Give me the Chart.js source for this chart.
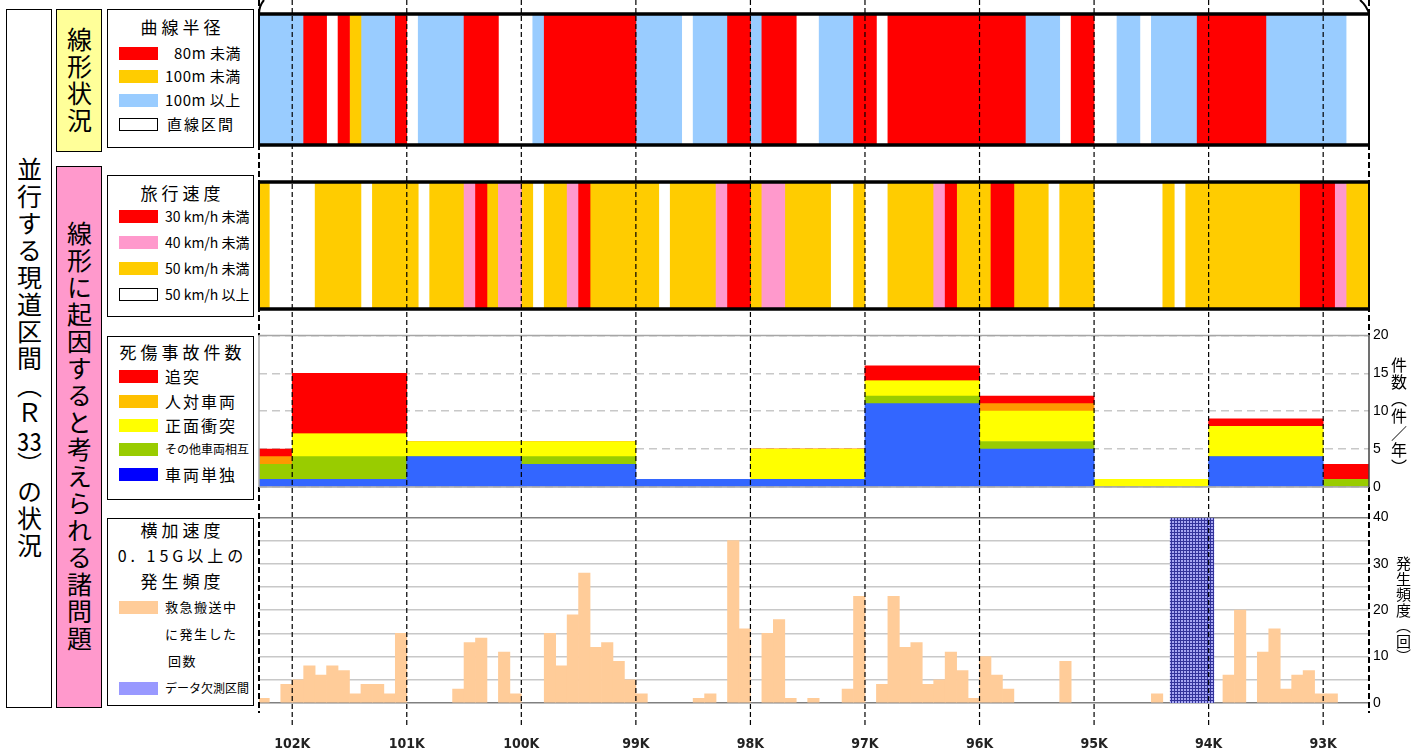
<!DOCTYPE html>
<html lang="ja">
<head>
<meta charset="utf-8">
<title>線形に起因すると考えられる諸問題</title>
<script src="https://cdn.jsdelivr.net/npm/chart.js@4.4.1/dist/chart.umd.min.js"></script>
<style>
  body { margin: 0; background: #fff; font-family: 'Noto Sans CJK JP', sans-serif; color: #000; }
  #page { position: relative; width: 1424px; height: 751px; overflow: hidden; }
  canvas { position: absolute; left: 250px; }
  .vbox { position: absolute; border: 1.5px solid #000; box-sizing: border-box; display: flex; align-items: center; justify-content: center; }
  .vbox > span { writing-mode: vertical-rl; font-size: 25px; letter-spacing: 2px; line-height: 1; }
  .tcy { text-combine-upright: all; }
  .lg { position: absolute; left: 107px; width: 147px; border: 1.5px solid #000; box-sizing: border-box; }
  .t { position: absolute; left: 109px; width: 147px; text-align: center; font-size: 17px; letter-spacing: 4px; line-height: 20px; white-space: nowrap; }
  .sw { position: absolute; left: 119px; width: 39px; height: 13px; }
  .ln { border: 1px solid #000; box-sizing: border-box; }
  .tx { position: absolute; left: 165px; line-height: 18px; white-space: nowrap; }
  .f15 { font-size: 15px; letter-spacing: 0.5px; }
  .f14 { font-size: 14px; }
  .f16 { font-size: 16px; letter-spacing: 2px; }
  .f13 { font-size: 13px; letter-spacing: 1.5px; }
  .f12 { font-size: 12px; }
  .vt { position: absolute; writing-mode: vertical-rl; line-height: 1; }
</style>
</head>
<body>
<div id="page">
  <div class="vbox" style="left:6px;top:9px;width:46px;height:699px"><span>並行する現道区間（Ｒ<span class="tcy">33</span>）の状況</span></div>
  <div class="vbox" style="left:56px;top:9px;width:46px;height:143px;background:#FFFF99"><span>線形状況</span></div>
  <div class="vbox" style="left:56px;top:166px;width:46px;height:542px;background:#FF99CC"><span>線形に起因すると考えられる諸問題</span></div>

  <div class="lg" style="top:9px;height:139px"></div>
  <div class="t" style="top:17px">曲線半径</div>
  <div class="sw" style="top:47px;background:#FF0000"></div><div class="tx f15" style="top:44px;left:174px">80m 未満</div>
  <div class="sw" style="top:70px;background:#FFCC00"></div><div class="tx f15" style="top:67px">100m 未満</div>
  <div class="sw" style="top:94px;background:#99CCFF"></div><div class="tx f15" style="top:91px">100m 以上</div>
  <div class="sw ln" style="top:118px"></div><div class="tx f15" style="top:115px;left:167px;letter-spacing:2px">直線区間</div>

  <div class="lg" style="top:175px;height:142px"></div>
  <div class="t" style="top:183px">旅行速度</div>
  <div class="sw" style="top:210px;background:#FF0000"></div><div class="tx f14" style="top:207px">30 km/h 未満</div>
  <div class="sw" style="top:236px;background:#FF99CC"></div><div class="tx f14" style="top:233px">40 km/h 未満</div>
  <div class="sw" style="top:262px;background:#FFCC00"></div><div class="tx f14" style="top:259px">50 km/h 未満</div>
  <div class="sw ln" style="top:288px"></div><div class="tx f14" style="top:285px">50 km/h 以上</div>

  <div class="lg" style="top:336px;height:164px"></div>
  <div class="t" style="top:342px">死傷事故件数</div>
  <div class="sw" style="top:370px;background:#FF0000"></div><div class="tx f16" style="top:367px">追突</div>
  <div class="sw" style="top:395px;background:#FFC000"></div><div class="tx f16" style="top:392px">人対車両</div>
  <div class="sw" style="top:419px;background:#FFFF00"></div><div class="tx f16" style="top:416px">正面衝突</div>
  <div class="sw" style="top:443px;background:#99CC00"></div><div class="tx f12" style="top:440px">その他車両相互</div>
  <div class="sw" style="top:468px;background:#0000FF"></div><div class="tx f16" style="top:465px">車両単独</div>

  <div class="lg" style="top:518px;height:188px"></div>
  <div class="t" style="top:520px">横加速度</div>
  <div class="t" style="top:545px;font-size:16px;letter-spacing:4px">0. 15G以上の</div>
  <div class="t" style="top:571px">発生頻度</div>
  <div class="sw" style="top:601px;background:#FFCC99"></div>
  <div class="tx f13" style="top:598px">救急搬送中</div>
  <div class="tx f13" style="top:625px">に発生した</div>
  <div class="tx f13" style="top:652px;left:168px">回数</div>
  <div class="sw" style="top:682px;background:#9999FF"></div><div class="tx f12" style="top:679px">データ欠測区間</div>

  <canvas id="curve" width="1174" height="163" style="top:0"></canvas>
  <canvas id="speed" width="1174" height="160" style="top:163px"></canvas>
  <canvas id="accident" width="1174" height="182" style="top:323px"></canvas>
  <canvas id="accel" width="1174" height="246" style="top:505px"></canvas>

  <div class="vt" style="left:1391px;top:357px;font-size:16px;letter-spacing:1px">件数（件／年）</div>
  <div class="vt" style="left:1396px;top:556px;font-size:15px;letter-spacing:0.5px">発生頻度（回）</div>
</div>

<script>
// 距離標(km)の表示範囲（左が起点側）
const KM_LEFT = 102.29;
const KM_RIGHT = 92.6;

// 曲線半径：区間境界(km)と各区間の区分
const curveLabels = ['80m 未満', '100m 未満', '100m 以上', '直線区間'];
const curveColors = ['#FF0000', '#FFCC00', '#99CCFF', '#FFFFFF'];
const curveEdges = [102.3, 101.9, 101.7, 101.6, 101.5, 101.4, 101.1, 101.0, 100.9, 100.5, 100.2, 99.9,
  99.8, 99.0, 98.6, 98.5, 98.2, 98.0, 97.9, 97.6, 97.4, 97.1, 96.9, 96.8, 95.6, 95.3, 95.2, 95.0,
  94.8, 94.6, 94.5, 94.1, 93.5, 92.8, 92.6];
const curveClass = [2, 0, 3, 0, 1, 2, 0, 3, 2, 0, 3, 2, 0, 2, 3, 2, 0, 2, 0, 3, 2, 0, 3, 0, 2, 3, 0,
  3, 2, 3, 2, 0, 2, 3];

// 旅行速度
const speedLabels = ['30 km/h 未満', '40 km/h 未満', '50 km/h 未満', '50 km/h 以上'];
const speedColors = ['#FF0000', '#FF99CC', '#FFCC00', '#FFFFFF'];
const speedEdges = [102.3, 102.2, 101.8, 101.4, 101.3, 100.9, 100.8, 100.5, 100.4, 100.3, 100.2, 100.0,
  99.9, 99.8, 99.6, 99.5, 99.4, 98.8, 98.7, 98.3, 98.2, 98.0, 97.9, 97.7, 97.3, 97.1, 97.0, 96.8, 96.4,
  96.3, 96.2, 95.9, 95.7, 95.4, 95.3, 95.0, 94.4, 94.3, 94.2, 93.2, 92.9, 92.8, 92.6];
const speedClass = [2, 3, 2, 3, 2, 3, 2, 1, 0, 2, 1, 2, 3, 2, 1, 0, 2, 3, 2, 1, 0, 2, 1, 2, 3, 2, 3, 2,
  1, 0, 2, 0, 2, 3, 2, 3, 2, 3, 2, 0, 1, 2];

// 死傷事故件数（件/年）：1km区間の中央km
const accidentKm = [102.5, 101.5, 100.5, 99.5, 98.5, 97.5, 96.5, 95.5, 94.5, 93.5, 92.5];
const singleVehicle = [1, 1, 4, 3, 1, 1, 11, 5, 0, 4, 0];   // 車両単独
const otherVehicle  = [2, 3, 0, 1, 0, 0, 1, 1, 0, 0, 1];    // その他車両相互
const headOn        = [0, 3, 2, 2, 0, 4, 2, 4, 1, 4, 0];    // 正面衝突
const pedestrian    = [1, 0, 0, 0, 0, 0, 0, 1, 0, 0, 0];    // 人対車両
const rearEnd       = [1, 8, 0, 0, 0, 0, 2, 1, 0, 1, 2];    // 追突

// 横加速度0.15G以上の発生回数：100m区間の中央km
const accelKm = [102.25, 102.05, 101.95, 101.85, 101.75, 101.65, 101.55, 101.45, 101.35, 101.25, 101.15, 101.05,
  100.55, 100.45, 100.35, 100.15, 100.05,
  99.75, 99.65, 99.55, 99.45, 99.35, 99.25, 99.15, 99.05, 98.95,
  98.45, 98.35, 98.15, 98.05,
  97.85, 97.75, 97.65, 97.45, 97.15, 97.05,
  96.85, 96.75, 96.65, 96.55, 96.45, 96.35, 96.25, 96.15, 96.05,
  95.95, 95.85, 95.75, 95.25, 94.45,
  93.825, 93.725, 93.525, 93.425, 93.325, 93.225, 93.125, 93.025, 92.925];
const accelCount = [1, 4, 5, 8, 6, 8, 7, 2, 4, 4, 2, 15,
  3, 13, 14, 11, 2,
  15, 8, 19, 28, 12, 13, 9, 5, 2,
  1, 2, 35, 16,
  15, 18, 1, 1, 3, 23,
  4, 23, 12, 13, 4, 5, 11, 7, 1,
  10, 6, 3, 9, 2,
  6, 20, 11, 16, 3, 6, 7, 2, 2];
// データ欠測区間
const missingFrom = 94.34;
const missingTo = 93.95;

Chart.defaults.font.family = "'Noto Sans CJK JP', sans-serif";

// km位置の破線と各パネルの枠
const guides = {
  id: 'guides',
  afterDraw(chart, args, o) {
    const { ctx, chartArea: a } = chart;
    const x = chart.scales.x;
    const h = chart.height;
    const vline = (px, y0, y1) => {
      ctx.lineDashOffset = o.top + y0;
      ctx.beginPath();
      ctx.moveTo(px, y0);
      ctx.lineTo(px, y1);
      ctx.stroke();
    };
    ctx.save();
    ctx.strokeStyle = '#000';

    // 左右端の太い破線
    ctx.lineWidth = 2;
    ctx.setLineDash([6, 3]);
    const edgeEnd = o.edgeEnd || h;
    [a.left, a.right].forEach(px => {
      if (o.frame === 'count') {
        vline(px, 0, a.top);
        vline(px, a.bottom, edgeEnd);
      } else {
        vline(px, 0, edgeEnd);
      }
    });

    ctx.setLineDash([]);
    ctx.lineDashOffset = 0;
    if (o.frame === 'strip') {
      ctx.lineWidth = 3.5;
      ctx.beginPath();
      ctx.moveTo(a.left - 1, a.top); ctx.lineTo(a.right + 1, a.top);
      ctx.moveTo(a.left - 1, a.bottom); ctx.lineTo(a.right + 1, a.bottom);
      ctx.stroke();
      ctx.lineWidth = 2;
      ctx.beginPath();
      ctx.moveTo(a.left, a.top); ctx.lineTo(a.left, a.bottom);
      ctx.moveTo(a.right, a.top); ctx.lineTo(a.right, a.bottom);
      ctx.stroke();
      if (o.brace) {
        ctx.beginPath();
        ctx.moveTo(a.left, a.top);
        ctx.quadraticCurveTo(a.left, a.top - 8, a.left + 5, a.top - 14);
        ctx.moveTo(a.right, a.top);
        ctx.quadraticCurveTo(a.right - 2, a.top - 8, a.right - 9, a.top - 14);
        ctx.stroke();
      }
    }
    if (o.frame === 'count') {
      ctx.lineWidth = 1.5;
      ctx.strokeStyle = '#A6A6A6';
      ctx.beginPath();
      ctx.moveTo(a.left, a.top); ctx.lineTo(a.right, a.top);
      ctx.moveTo(a.left, a.bottom); ctx.lineTo(a.right, a.bottom);
      ctx.moveTo(a.left, a.top); ctx.lineTo(a.left, a.bottom);
      ctx.stroke();
      ctx.strokeStyle = '#404040';
      ctx.beginPath();
      ctx.moveTo(a.right, a.top); ctx.lineTo(a.right, a.bottom);
      ctx.stroke();
    }

    // 1kmごとの破線
    ctx.strokeStyle = '#000';
    ctx.lineWidth = 1.2;
    ctx.setLineDash([5, 3]);
    x.ticks.forEach(t => vline(x.getPixelForValue(t.value), 0, o.lineEnd || h));
    ctx.restore();
  }
};

function kmScale(extra) {
  return Object.assign({
    type: 'linear',
    reverse: true,
    offset: false,
    min: KM_RIGHT,
    max: KM_LEFT,
    display: false,
    ticks: { stepSize: 1, includeBounds: false }
  }, extra);
}

const base = {
  responsive: false,
  animation: false,
  events: []
};

function stripChart(id, top, pad, edges, cls, labels, colors, brace) {
  const datasets = labels.map((label, c) => ({
    label,
    data: cls.map((k, i) => k === c ? { x: [edges[i], edges[i + 1]], y: 'row' } : null).filter(d => d),
    backgroundColor: colors[c],
    borderWidth: 0,
    grouped: false,
    barPercentage: 1,
    categoryPercentage: 1,
    clip: 0
  }));
  return new Chart(document.getElementById(id), {
    type: 'bar',
    data: { labels: ['row'], datasets },
    options: {
      ...base,
      indexAxis: 'y',
      layout: { padding: pad },
      scales: { x: kmScale(), y: { display: false } },
      plugins: {
        legend: { display: false },
        tooltip: { enabled: false },
        guides: { top, frame: 'strip', brace }
      }
    },
    plugins: [guides]
  });
}

stripChart('curve', 0, { left: 9, right: 55, top: 14, bottom: 18 },
  curveEdges, curveClass, curveLabels, curveColors, true);
stripChart('speed', 163, { left: 9, right: 55, top: 19, bottom: 14 },
  speedEdges, speedClass, speedLabels, speedColors, false);

// 死傷事故件数（積み上げ）
const layer = (label, values, color) => ({
  label,
  data: accidentKm.map((x, i) => ({ x, y: values[i] })),
  backgroundColor: color,
  borderWidth: 0,
  barPercentage: 1,
  categoryPercentage: 1,
  clip: 0
});

new Chart(document.getElementById('accident'), {
  type: 'bar',
  data: {
    datasets: [
      layer('車両単独', singleVehicle, '#3366FF'),
      layer('その他車両相互', otherVehicle, '#99CC00'),
      layer('正面衝突', headOn, '#FFFF00'),
      layer('人対車両', pedestrian, '#FF9900'),
      layer('追突', rearEnd, '#FF0000')
    ]
  },
  options: {
    ...base,
    layout: { padding: { left: 9, right: 0, top: 12, bottom: 18 } },
    scales: {
      x: kmScale({ stacked: true }),
      y: {
        position: 'right',
        stacked: true,
        min: 0,
        max: 20,
        ticks: { stepSize: 5, padding: 4, color: '#000', font: { family: "'Liberation Sans', sans-serif", size: 14 } },
        grid: { color: '#C8C8C8', lineWidth: 1.5, drawTicks: false },
        border: { display: false, dash: [8, 5] },
        afterFit: s => { s.width = 55; }
      }
    },
    plugins: {
      legend: { display: false },
      tooltip: { enabled: false },
      guides: { top: 323, frame: 'count' }
    }
  },
  plugins: [guides]
});

// 欠測区間の網掛け
function hatch() {
  const c = document.createElement('canvas');
  c.width = 3; c.height = 3;
  const g = c.getContext('2d');
  g.fillStyle = '#A6A6F2';
  g.fillRect(0, 0, 3, 3);
  g.fillStyle = '#33339A';
  g.fillRect(0, 0, 3, 1);
  g.fillRect(0, 0, 1, 3);
  return g.createPattern(c, 'repeat');
}

new Chart(document.getElementById('accel'), {
  type: 'bar',
  data: {
    datasets: [
      {
        type: 'line',
        label: 'データ欠測区間',
        data: [{ x: missingFrom, y: 40 }, { x: missingTo, y: 40 }],
        fill: 'origin',
        backgroundColor: hatch(),
        borderColor: 'rgba(0,0,0,0)',
        borderWidth: 0,
        pointRadius: 0
      },
      {
        label: '救急搬送中に発生した回数',
        data: accelKm.map((x, i) => ({ x, y: accelCount[i] })),
        backgroundColor: '#FFCC99',
        borderWidth: 0,
        barPercentage: 1,
        categoryPercentage: 1,
        clip: 0
      }
    ]
  },
  options: {
    ...base,
    layout: { padding: { left: 9, right: 0, top: 12, bottom: 0 } },
    scales: {
      x: kmScale({
        display: true,
        ticks: {
          stepSize: 1,
          includeBounds: false,
          padding: 33,
          color: '#222',
          font: { family: "'Liberation Sans Narrow', 'DejaVu Sans Condensed', 'Liberation Sans', sans-serif", size: 14, weight: 'bold' },
          callback: v => v + 'K'
        },
        grid: { display: false, drawTicks: false },
        border: { display: false },
        // 目盛ラベルのはみ出しで描画域がずれないようにする
        afterFit: s => {
          s.height = 48;
          s.paddingLeft = 0;
          s.paddingRight = 0;
        }
      }),
      y: {
        position: 'right',
        min: 0,
        max: 40,
        ticks: {
          stepSize: 5,
          padding: 4,
          color: '#000',
          font: { family: "'Liberation Sans', sans-serif", size: 14 },
          callback: v => (v % 10 === 0 ? v : '')
        },
        grid: {
          color: c => (c.tick && (c.tick.value === 0 || c.tick.value === 40)) ? '#808080' : '#C8C8C8',
          lineWidth: 1.5,
          drawTicks: false
        },
        border: { display: false },
        afterFit: s => { s.width = 55; }
      }
    },
    plugins: {
      legend: { display: false },
      tooltip: { enabled: false },
      guides: { top: 505, frame: 'accel', lineEnd: 223, edgeEnd: 208 }
    }
  },
  plugins: [guides]
});
</script>
</body>
</html>
